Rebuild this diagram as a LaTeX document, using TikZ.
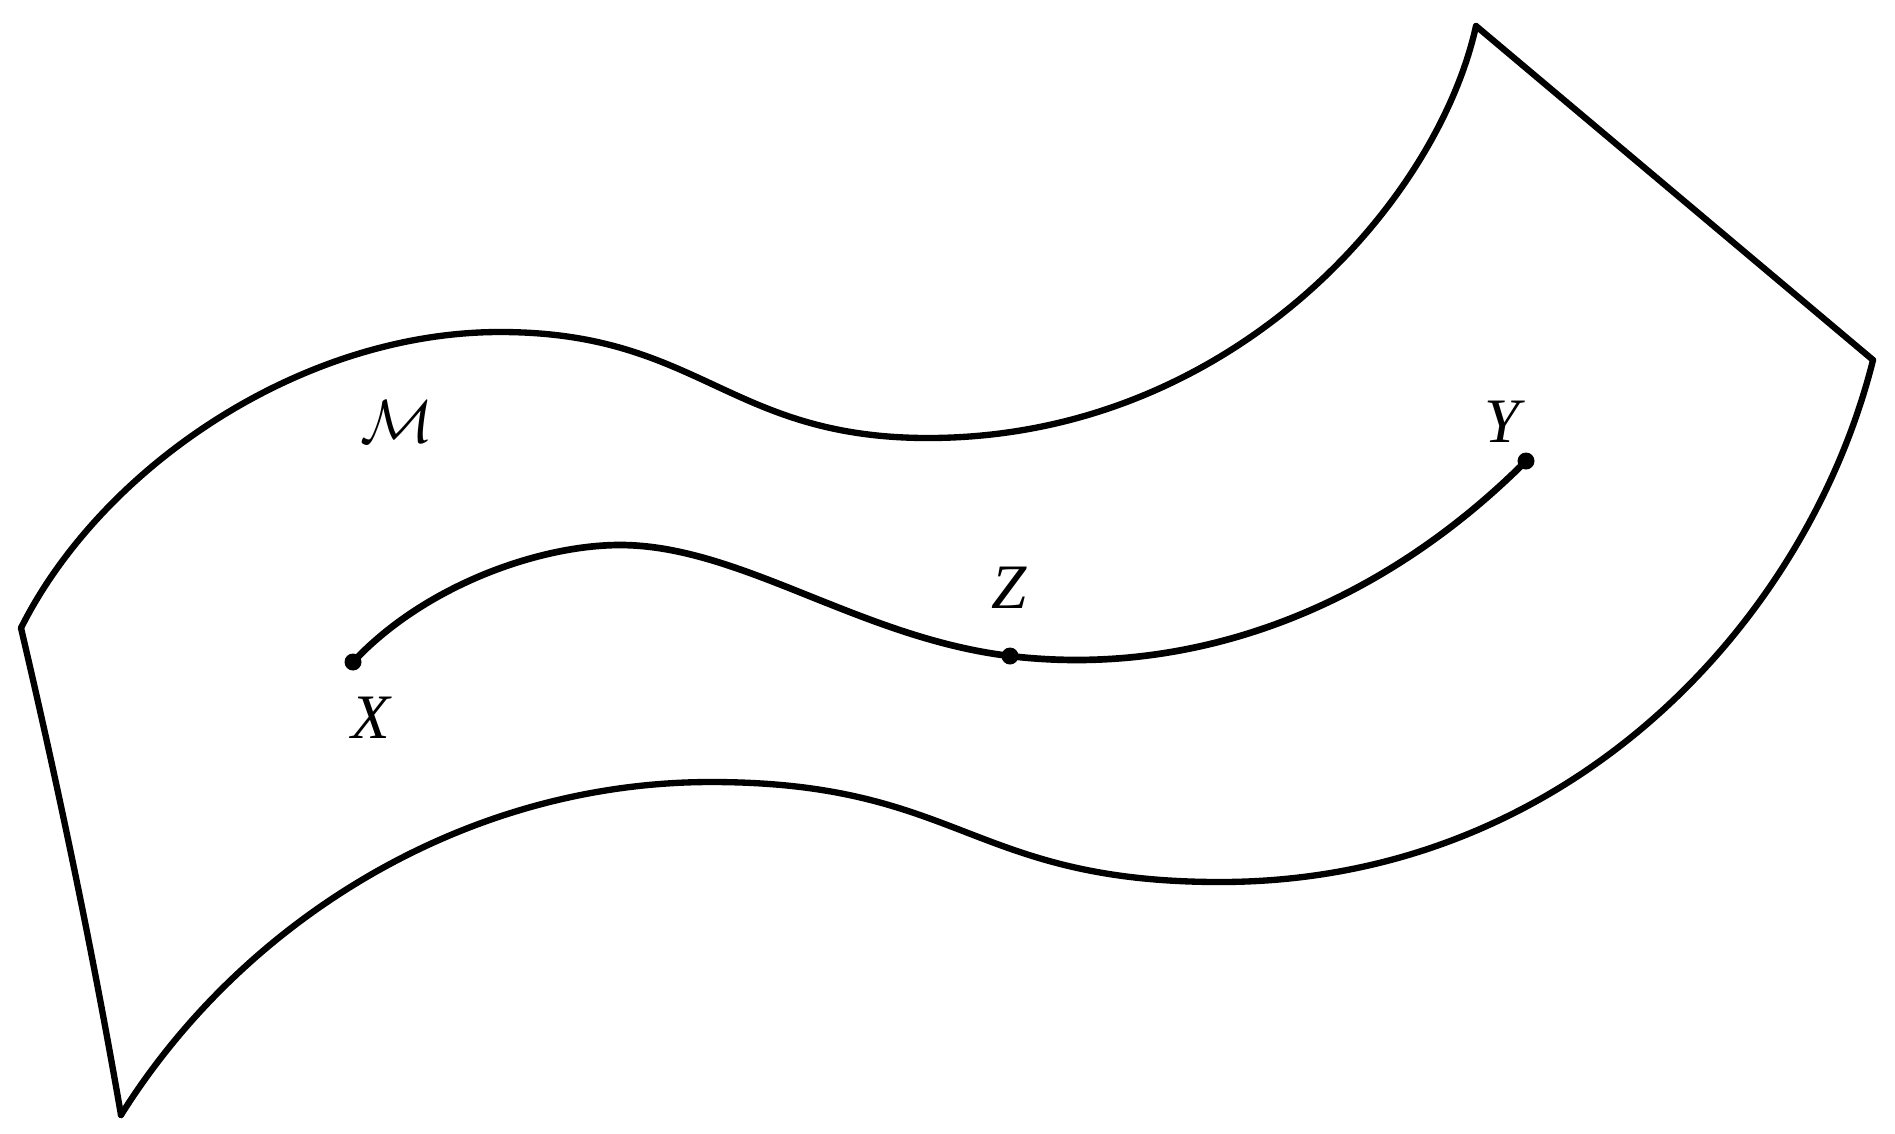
\documentclass[tikz,border=0pt]{standalone}
\usepackage{fontspec}
\setmainfont{Liberation Serif}
\begin{document}
\begin{tikzpicture}[x=0.01cm,y=-0.01cm,
  edge/.style={line width=1.8pt,line cap=round,line join=round},
  geo/.style={line width=1.9pt,line cap=round},
  dot/.style={circle,fill=black,inner sep=0pt,minimum size=0.17cm},
  lbl/.style={inner sep=0pt,anchor=center,font=\fontsize{18}{22}\selectfont}]
\useasboundingbox (0,0) rectangle (1895,1133);
% corners of the manifold patch
\coordinate (L) at (21,628);
\coordinate (B) at (121,1115);
\coordinate (T) at (1476,26);
\coordinate (R) at (1873,360);
% top edge
\draw[edge] (L) .. controls (101,468) and (300,332) .. (500,332)
  .. controls (700,332) and (728,438) .. (928,438)
  .. controls (1228,438) and (1436,206) .. (T);
% right upper edge
\draw[edge] (T) -- (R);
% bottom edge
\draw[edge] (B) .. controls (241,923) and (462,782) .. (711,782)
  .. controls (961,782) and (970,882) .. (1220,882)
  .. controls (1570,882) and (1808,620) .. (R);
% left edge
\draw[edge] (L) .. controls (59,790) and (93,953) .. (B);
% points
\node[dot] (X) at (353,662) {};
\node[dot] (Z) at (1010,656) {};
\node[dot] (Y) at (1526,461) {};
% geodesic through X, Z, Y
\draw[geo] (X.center) .. controls (425,585) and (540,545) .. (620,545)
  .. controls (740,545) and (860,638) .. (Z.center)
  .. controls (1190,677.6) and (1376,611) .. (Y.center);
% labels
\node[lbl] (lM) at (397,422) {$\mathcal{M}$};
\node[lbl] (lX) at (372,718) {\textit{X}};
\node[lbl] (lZ) at (1009,588) {\textit{Z}};
\node[lbl] (lY) at (1505,422) {\textit{Y}};
\end{tikzpicture}
\end{document}
